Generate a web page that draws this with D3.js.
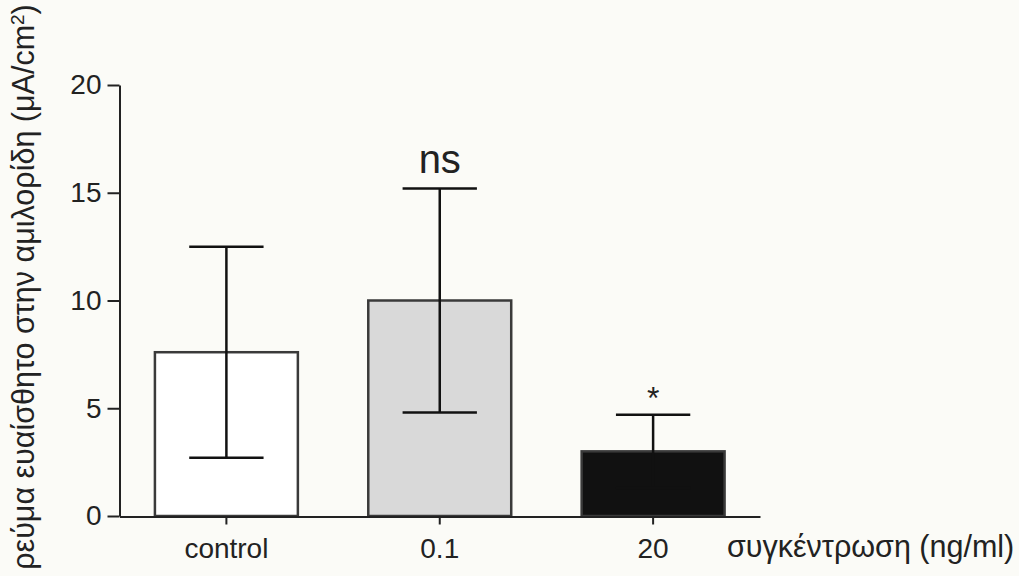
<!DOCTYPE html>
<html>
<head>
<meta charset="utf-8">
<script src="https://cdn.jsdelivr.net/npm/d3@7"></script>
<style>
  html, body { margin: 0; padding: 0; background: #fbfbf7; }
  svg { display: block; }
  text { font-family: "Liberation Sans", Arial, sans-serif; fill: #222; }
</style>
</head>
<body>
<div id="chart"></div>
<script>
// data
var categories = ['control', '0.1', '20'];
var means = [7.6, 10.0, 3.0];
var errors = [4.9, 5.2, 1.7];
var fills = ['#ffffff', '#d9d9d9', '#111111'];
var marks = ['', 'ns', '*'];
var yTicks = [0, 5, 10, 15, 20];

var width = 1019;
var height = 576;

var svg = d3.select('#chart').append('svg')
    .attr('width', width)
    .attr('height', height);

var x = d3.scaleBand()
    .domain(categories)
    .range([119.5, 760])
    .paddingInner(0.33)
    .paddingOuter(0.166);

var y = d3.scaleLinear()
    .domain([0, 20])
    .range([516, 85]);

var rows = categories.map(function(c, i) {
    return { cat: c, mean: means[i], err: errors[i], fill: fills[i], mark: marks[i] };
});

// bars
svg.append('g')
    .selectAll('rect')
    .data(rows)
    .enter().append('rect')
    .attr('x', function(d) { return x(d.cat); })
    .attr('y', function(d) { return y(d.mean); })
    .attr('width', x.bandwidth())
    .attr('height', function(d) { return y(0) - y(d.mean); })
    .attr('fill', function(d) { return d.fill; })
    .attr('stroke', '#3a3a3a')
    .attr('stroke-width', 2.5);

// error bars
var capHalf = x.bandwidth() * 0.26;
var eb = svg.append('g')
    .selectAll('g')
    .data(rows)
    .enter().append('g')
    .attr('stroke', '#111')
    .attr('stroke-width', 2.5);

eb.append('line')
    .attr('x1', function(d) { return x(d.cat) + x.bandwidth() / 2; })
    .attr('x2', function(d) { return x(d.cat) + x.bandwidth() / 2; })
    .attr('y1', function(d) { return y(d.mean - d.err); })
    .attr('y2', function(d) { return y(d.mean + d.err); });

eb.append('line')
    .attr('x1', function(d) { return x(d.cat) + x.bandwidth() / 2 - capHalf; })
    .attr('x2', function(d) { return x(d.cat) + x.bandwidth() / 2 + capHalf; })
    .attr('y1', function(d) { return y(d.mean + d.err); })
    .attr('y2', function(d) { return y(d.mean + d.err); });

eb.append('line')
    .attr('x1', function(d) { return x(d.cat) + x.bandwidth() / 2 - capHalf; })
    .attr('x2', function(d) { return x(d.cat) + x.bandwidth() / 2 + capHalf; })
    .attr('y1', function(d) { return y(d.mean - d.err); })
    .attr('y2', function(d) { return y(d.mean - d.err); });

// significance marks
svg.append('g')
    .selectAll('text')
    .data(rows.filter(function(d) { return d.mark; }))
    .enter().append('text')
    .attr('x', function(d) { return x(d.cat) + x.bandwidth() / 2; })
    .attr('y', function(d) { return y(d.mean + d.err) - (d.mark === 'ns' ? 15 : 6); })
    .attr('text-anchor', 'middle')
    .style('font-size', function(d) { return d.mark === 'ns' ? '40px' : '32px'; })
    .text(function(d) { return d.mark; });

// y axis
var yAxis = svg.append('g')
    .attr('transform', 'translate(119.5,0)')
    .call(d3.axisLeft(y).tickValues(yTicks).tickSize(12).tickSizeOuter(0).tickPadding(6));

// x axis
var xAxis = svg.append('g')
    .attr('transform', 'translate(0,516.5)')
    .call(d3.axisBottom(x).tickSize(8).tickSizeOuter(0).tickPadding(14));

[yAxis, xAxis].forEach(function(ax) {
    ax.select('.domain').attr('stroke', '#222').attr('stroke-width', 2);
    ax.selectAll('.tick line').attr('stroke', '#222').attr('stroke-width', 2);
    ax.selectAll('.tick text')
        .style('font-family', '"Liberation Sans", Arial, sans-serif')
        .style('font-size', '28px')
        .attr('fill', '#222');
});

// x axis title
svg.append('text')
    .attr('x', 727)
    .attr('y', 557)
    .style('font-size', '30.5px')
    .text('συγκέντρωση (ng/ml)');

// y axis title
var yTitle = svg.append('text')
    .attr('transform', 'translate(34,287) rotate(-90)')
    .attr('text-anchor', 'middle')
    .style('font-size', '30.5px');
yTitle.append('tspan').text('ρεύμα ευαίσθητο στην αμιλορίδη (μA/cm');
yTitle.append('tspan').attr('baseline-shift', 'super').style('font-size', '19px').text('2');
yTitle.append('tspan').text(')');
</script>
</body>
</html>
